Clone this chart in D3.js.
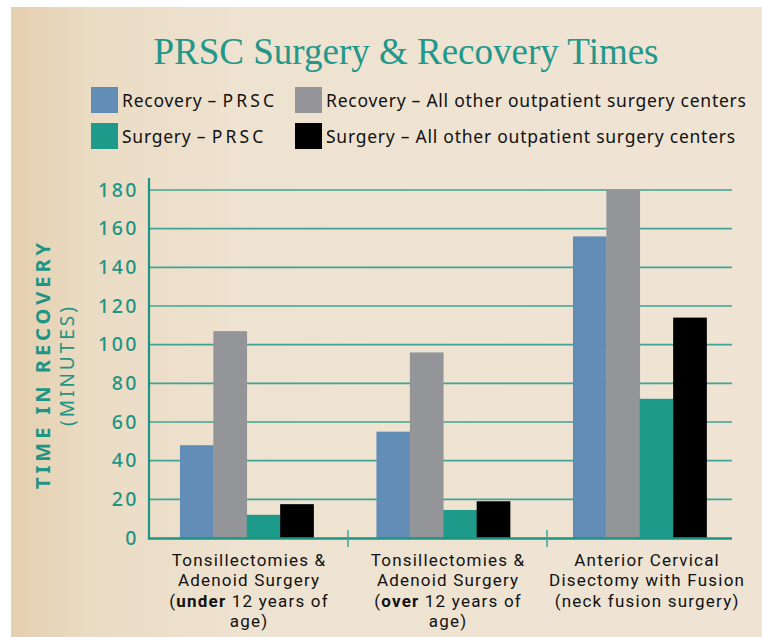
<!DOCTYPE html>
<html>
<head>
<meta charset="utf-8">
<script src="https://cdn.jsdelivr.net/npm/d3@7"></script>
<style>
html,body{margin:0;padding:0;background:#fff;}
svg{display:block;}
text{white-space:pre;}
</style>
</head>
<body>
<script>
// ---- data ----
const categories = ["tonsil_under", "tonsil_over", "acdf"];
const categoryLabels = [
  [[{t:"Tonsillectomies &"}],[{t:"Adenoid Surgery"}],[{t:"(",b:false},{t:"under",b:true},{t:" 12 years of",b:false}],[{t:"age)"}]],
  [[{t:"Tonsillectomies &"}],[{t:"Adenoid Surgery"}],[{t:"(",b:false},{t:"over",b:true},{t:" 12 years of",b:false}],[{t:"age)"}]],
  [[{t:"Anterior Cervical"}],[{t:"Disectomy with Fusion"}],[{t:"(neck fusion surgery)"}]]
];
const seriesNames = ["Recovery – PRSC", "Recovery – All other outpatient surgery centers", "Surgery – PRSC", "Surgery – All other outpatient surgery centers"];
const recoveryPRSC = [48, 55, 156];
const recoveryOther = [107, 96, 180];
const surgeryPRSC = [12, 14.5, 72];
const surgeryOther = [17.5, 19, 114];
const yTicks = [0, 20, 40, 60, 80, 100, 120, 140, 160, 180];
const seriesColors = ["#618db6", "#949599", "#1e9a8a", "#000000"];

const W = 762, H = 637;
const svg = d3.select("body").append("svg").attr("width", W).attr("height", H);
const defs = svg.append("defs");
const grad = defs.append("linearGradient").attr("id","bg").attr("x1","0").attr("x2","1").attr("y1","0").attr("y2","0");
grad.append("stop").attr("offset","0").attr("stop-color","#e4cfae");
grad.append("stop").attr("offset","0.1").attr("stop-color","#eadbc3");
grad.append("stop").attr("offset","0.3").attr("stop-color","#eee2d0");
grad.append("stop").attr("offset","1").attr("stop-color","#efe4d4");
svg.append("rect").attr("x",11).attr("y",7).attr("width",W-11).attr("height",H-7).attr("fill","url(#bg)");

const teal = "#1e9484";
const sans = "'Noto Sans', 'Open Sans', sans-serif";
const labFont = "Roboto, 'Noto Sans', sans-serif";
const series = [recoveryPRSC, recoveryOther, surgeryPRSC, surgeryOther];

// scales
const y = d3.scaleLinear().domain([0, 180]).range([538, 190]);
const xBar = d3.scaleBand().domain(categories).range([148.5, 738]).paddingInner(0.32).paddingOuter(0.16);
const xSub = d3.scaleBand().domain(d3.range(series.length)).range([0, xBar.bandwidth()]);
const xLab = d3.scaleBand().domain(categories).range([149, 746]);

// title
svg.append("text").attr("x", 406).attr("y", 64)
  .attr("text-anchor","middle")
  .attr("font-family","'Liberation Serif', 'DejaVu Serif', serif")
  .attr("font-size", 37).attr("fill", "#22978a")
  .text("PRSC Surgery & Recovery Times");

// legend
const legPos = [[91,87],[295,87],[91,123],[295,123]];
seriesNames.forEach((name,s)=>{
  const g = svg.append("g").attr("transform",`translate(${legPos[s][0]},${legPos[s][1]})`);
  g.append("rect").attr("width",27).attr("height",26).attr("fill",seriesColors[s]);
  const parts = name.split("PRSC");
  const t = g.append("text").attr("x", 31).attr("y", 19.5)
    .attr("font-family",sans).attr("font-size",17.5).attr("letter-spacing",0.75).attr("fill","#111");
  t.append("tspan").text(parts[0]);
  if (parts.length > 1) t.append("tspan").attr("letter-spacing", 3.2).text("PRSC");
});

// grid lines
svg.append("g").selectAll("line").data(yTicks.filter(d=>d>0)).join("line")
  .attr("x1",149).attr("x2",732).attr("y1",d=>y(d)).attr("y2",d=>y(d))
  .attr("stroke","#3ea596").attr("stroke-width",1.6);

// bars
const gGroups = svg.append("g").selectAll("g").data(categories).join("g")
  .attr("transform", c => `translate(${xBar(c)},0)`);
gGroups.selectAll("rect").data((c,i)=>series.map((s,k)=>({k, v:s[i]}))).join("rect")
  .attr("x", d=>xSub(d.k)).attr("width", xSub.bandwidth()+0.3)
  .attr("y", d=>y(d.v)).attr("height", d=>y(0)-y(d.v))
  .attr("fill", d=>seriesColors[d.k]);

// y axis
const yAxis = d3.axisLeft(y).tickValues(yTicks).tickSize(0).tickPadding(10);
const ya = svg.append("g").attr("transform","translate(149,0)").call(yAxis);
ya.select(".domain").remove();
ya.selectAll("text").attr("font-family",sans).attr("font-size",19.5)
  .attr("fill",teal).attr("letter-spacing",2.5).attr("font-weight",500);
svg.append("line").attr("x1",149).attr("x2",149).attr("y1",178).attr("y2",539.5).attr("stroke",teal).attr("stroke-width",2.2);

// x axis
svg.append("line").attr("x1",148).attr("x2",732).attr("y1",538.5).attr("y2",538.5).attr("stroke",teal).attr("stroke-width",2.4);
svg.append("g").selectAll("line").data(categories.slice(1)).join("line")
  .attr("x1",c=>xLab(c)).attr("x2",c=>xLab(c)).attr("y1",530).attr("y2",547)
  .attr("stroke","#3ea596").attr("stroke-width",1.5);

// x labels (one text element per run, placed by measured widths)
categories.forEach((c,i)=>{
  const cx = xLab(c)+xLab.bandwidth()/2;
  categoryLabels[i].forEach((ln,j)=>{
    const yy = 565.5 + j*20.6;
    const els = ln.map(p => svg.append("text").attr("y", yy)
      .attr("font-family",labFont).attr("font-size",17).attr("letter-spacing",1.2)
      .attr("font-weight", p.b ? 700 : 400).attr("fill","#111").text(p.t));
    const widths = els.map(e => e.node().getComputedTextLength());
    const total = d3.sum(widths) - 1.2;
    let x0 = cx - total/2;
    els.forEach((e,k)=>{ e.attr("x", x0); x0 += widths[k]; });
  });
});

// y title
svg.append("text").attr("transform","translate(50,364) rotate(-90)").attr("text-anchor","middle")
  .attr("font-family",sans).attr("font-size",20).attr("font-weight",700)
  .attr("letter-spacing",4).attr("fill",teal).text("TIME IN RECOVERY");
svg.append("text").attr("transform","translate(74,365) rotate(-90)").attr("text-anchor","middle")
  .attr("font-family",sans).attr("font-size",19).attr("font-weight",400)
  .attr("letter-spacing",3).attr("fill",teal).text("(MINUTES)");
</script>
</body>
</html>
